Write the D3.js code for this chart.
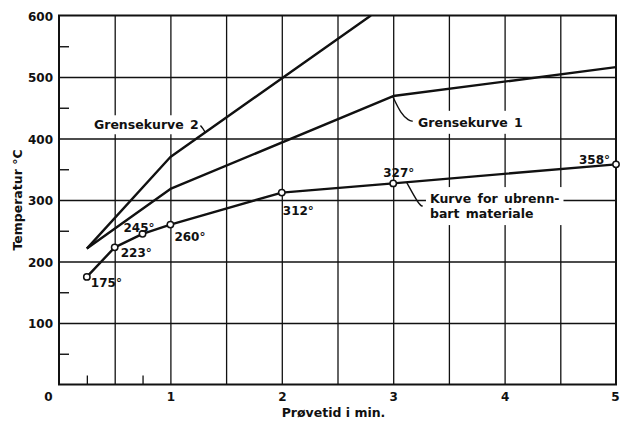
<!DOCTYPE html>
<html>
<head>
<meta charset="utf-8">
<script src="https://cdn.jsdelivr.net/npm/d3@7"></script>
<style>
  body { margin: 0; background: #fff; }
  svg text { font-family: "DejaVu Sans", sans-serif; font-weight: bold; fill: #111; }
</style>
</head>
<body>
<div id="chart"></div>
<script>

// Data (temperature in °C against test time in minutes)
const xTickValues = [0, 1, 2, 3, 4, 5];
const yTickValues = [100, 200, 300, 400, 500, 600];

const ubrennTime = [0.25, 0.5, 0.75, 1, 2, 3, 5];
const ubrennTemp = [175, 223, 245, 260, 312, 327, 358];
const ubrennLabels = ["175°", "223°", "245°", "260°", "312°", "327°", "358°"];

const grense1Time = [0.25, 1, 3, 5];
const grense1Temp = [221, 318, 469, 516];

const grense2Time = [0.25, 1, 2.8];
const grense2Temp = [221, 370, 600];

// Set dimensions and margins for plot
const width = 621;
const height = 421;
const margin = {left: 59, right: 5, bottom: 36.5, top: 15.5};
const ink = "#111";

const svg = d3
  .select("#chart")
  .append("svg")
  .attr("width", width)
  .attr("height", height)
  .attr("viewBox", [0, 0, width, height]);

let xScale = d3.scaleLinear()
            .domain([0, 5])
            .range([margin.left, width - margin.right]);

let yScale = d3.scaleLinear()
            .domain([0, 600])
            .range([height - margin.bottom, margin.top]);

/*

  Grid

*/

// vertical grid every half minute
svg.append("g")
   .attr("transform", `translate(0,${height - margin.bottom})`)
   .call(d3.axisBottom(xScale)
           .tickValues(d3.range(0.5, 5, 0.5))
           .tickSize(-(height - margin.top - margin.bottom))
           .tickFormat(""))
   .call(g => g.select(".domain").remove())
   .call(g => g.selectAll("line").attr("stroke", ink).attr("stroke-width", 1.3));

// horizontal grid every 100 degrees
svg.append("g")
   .attr("transform", `translate(${margin.left},0)`)
   .call(d3.axisLeft(yScale)
           .tickValues(d3.range(100, 600, 100))
           .tickSize(-(width - margin.left - margin.right))
           .tickFormat(""))
   .call(g => g.select(".domain").remove())
   .call(g => g.selectAll("line").attr("stroke", ink).attr("stroke-width", 1.6));

// short minor ticks on the left (every 50) and bottom (quarter minutes)
svg.append("g")
   .attr("transform", `translate(${margin.left},0)`)
   .call(d3.axisLeft(yScale)
           .tickValues(d3.range(50, 600, 100))
           .tickSize(-10)
           .tickFormat(""))
   .call(g => g.select(".domain").remove())
   .call(g => g.selectAll("line").attr("stroke", ink).attr("stroke-width", 1.4));

svg.append("g")
   .attr("transform", `translate(0,${height - margin.bottom})`)
   .call(d3.axisBottom(xScale)
           .tickValues([0.25, 0.75])
           .tickSize(-9)
           .tickFormat(""))
   .call(g => g.select(".domain").remove())
   .call(g => g.selectAll("line").attr("stroke", ink).attr("stroke-width", 1.3));

// white backgrounds for the annotations go here, above the grid
const maskLayer = svg.append("g");

// frame
svg.append("rect")
   .attr("x", xScale(0))
   .attr("y", yScale(600))
   .attr("width", xScale(5) - xScale(0))
   .attr("height", yScale(0) - yScale(600))
   .attr("fill", "none")
   .attr("stroke", ink)
   .attr("stroke-width", 2);

/*

  Axes labels

*/

svg.append("g")
   .attr("transform", `translate(${margin.left},0)`)
   .call(d3.axisLeft(yScale).tickValues(yTickValues).tickSize(0).tickPadding(6))
   .call(g => g.select(".domain").remove())
   .selectAll("text")
     .attr("font-size", "12px")
     .attr("dy", "0.38em");

// the 0 sits in the corner, the 5 is pulled in from the edge
svg.append("g")
   .attr("transform", `translate(0,${height - margin.bottom})`)
   .call(d3.axisBottom(xScale)
           .tickValues(xTickValues)
           .tickFormat(d3.format("d"))
           .tickSize(0)
           .tickPadding(8))
   .call(g => g.select(".domain").remove())
   .call(g => g.selectAll(".tick text")
                .attr("font-size", "12px")
                .attr("x", d => d === 0 ? -11 : (d === 5 ? -1 : 0)));

svg.append("text")
   .attr("x", (xScale(2) + xScale(3)) / 2 - 4)
   .attr("y", height - 4)
   .attr("text-anchor", "middle")
   .attr("font-size", "12.5px")
   .text("Prøvetid i min.");

svg.append("text")
   .attr("transform", `translate(22,${yScale(300)}) rotate(-90)`)
   .attr("text-anchor", "middle")
   .attr("font-size", "12.5px")
   .text("Temperatur °C");

/*

  Curves

*/

const line = d3.line()
  .x(d => xScale(d[0]))
  .y(d => yScale(d[1]));

svg.append("clipPath").attr("id", "plot-clip")
  .append("rect")
  .attr("x", xScale(0)).attr("y", yScale(600))
  .attr("width", xScale(5) - xScale(0)).attr("height", yScale(0) - yScale(600));

const curves = [
  d3.zip(grense2Time, grense2Temp),
  d3.zip(grense1Time, grense1Temp),
  d3.zip(ubrennTime, ubrennTemp)
];

svg.append("g")
   .attr("clip-path", "url(#plot-clip)")
   .selectAll("path")
   .data(curves)
   .enter()
   .append("path")
     .attr("d", line)
     .attr("fill", "none")
     .attr("stroke", ink)
     .attr("stroke-width", 2.4)
     .attr("stroke-linejoin", "round");

// open circles on the measured curve
svg.selectAll(".pt")
   .data(d3.zip(ubrennTime, ubrennTemp))
   .enter()
   .append("circle")
     .attr("class", "pt")
     .attr("cx", d => xScale(d[0]))
     .attr("cy", d => yScale(d[1]))
     .attr("r", 3.2)
     .attr("fill", "#fff")
     .attr("stroke", ink)
     .attr("stroke-width", 1.5);

// value labels, offsets in px from each point
const labelOffsets = [
  {dx: 4, dy: 10, anchor: "start"},
  {dx: 6, dy: 10, anchor: "start"},
  {dx: 12, dy: -2, anchor: "end"},
  {dx: 4, dy: 16, anchor: "start"},
  {dx: 1, dy: 22, anchor: "start"},
  {dx: -10, dy: -6, anchor: "start"},
  {dx: -6, dy: 0, anchor: "end"}
];

svg.selectAll(".val")
   .data(ubrennLabels)
   .enter()
   .append("text")
     .attr("class", "val")
     .attr("x", (d, i) => xScale(ubrennTime[i]) + labelOffsets[i].dx)
     .attr("y", (d, i) => yScale(ubrennTemp[i]) + labelOffsets[i].dy)
     .attr("text-anchor", (d, i) => labelOffsets[i].anchor)
     .attr("font-size", "12px")
     .text(d => d);

/*

  Curve names with leader lines (positions in data units)

*/

const notes = [
  {lines: ["Grensekurve 2"], at: [0.314, 415], pad: 2,
   leader: [[1.27, 421], [1.29, 417], [1.312, 410]]},
  {lines: ["Grensekurve 1"], at: [3.223, 419], pad: 4,
   leader: [[3.175, 428], [3.14, 429], [3.07, 440], [2.995, 468.5]]},
  {lines: ["Kurve for ubrenn-", "bart materiale"], at: [3.33, 295], pad: 4,
   leader: [[3.265, 290], [3.235, 291], [3.12, 328.9]]}
];

const leaderLine = d3.line()
  .x(d => xScale(d[0]))
  .y(d => yScale(d[1]))
  .curve(d3.curveBasis);

notes.forEach(n => {
  const t = svg.append("text")
    .attr("x", xScale(n.at[0]))
    .attr("y", yScale(n.at[1]))
    .attr("font-size", "12.5px")
    .attr("word-spacing", "2px");
  n.lines.forEach((s, i) => {
    t.append("tspan")
     .attr("x", xScale(n.at[0]))
     .attr("dy", i === 0 ? 0 : 15)
     .text(s);
  });
  const b = t.node().getBBox();
  maskLayer.append("rect")
    .attr("x", b.x - n.pad).attr("y", b.y - n.pad)
    .attr("width", b.width + 2 * n.pad).attr("height", b.height + 2 * n.pad)
    .attr("fill", "#fff");
  svg.append("path")
    .attr("d", leaderLine(n.leader))
    .attr("fill", "none")
    .attr("stroke", ink)
    .attr("stroke-width", 1.4);
});

</script>
</body>
</html>
